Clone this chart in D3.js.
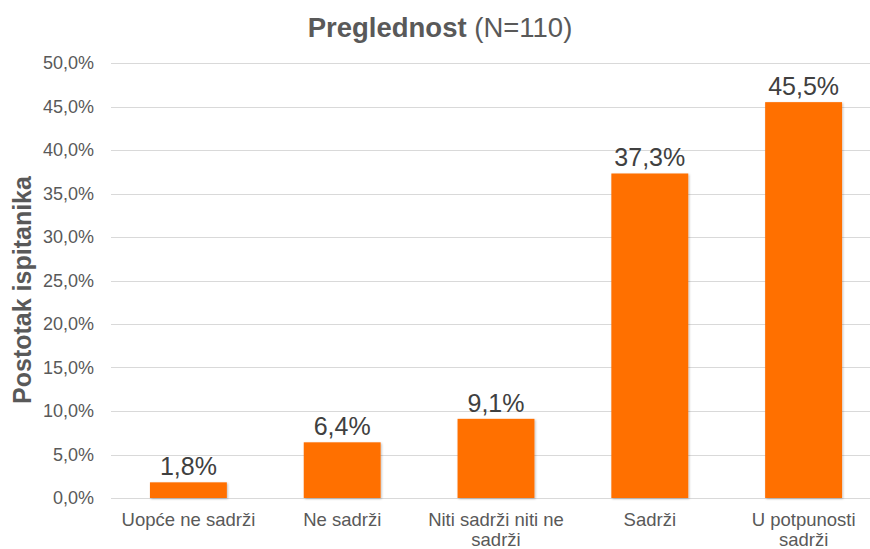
<!DOCTYPE html>
<html>
<head>
<meta charset="utf-8">
<script src="https://cdn.jsdelivr.net/npm/d3@7"></script>
<style>
  html, body { margin: 0; padding: 0; background: #fff; }
  svg { display: block; font-family: "Liberation Sans", Arial, Helvetica, sans-serif; }
</style>
</head>
<body>
<svg id="chart" width="870" height="549"></svg>
<script>
// Answer categories and share of respondents (%)
const categories = ["Uopće ne sadrži", "Ne sadrži", "Niti sadrži niti ne sadrži", "Sadrži", "U potpunosti sadrži"];
const values = [1.8, 6.4, 9.1, 37.3, 45.5];
const yTicks = [0, 5, 10, 15, 20, 25, 30, 35, 40, 45, 50];

const titleBold = "Preglednost";
const titleRest = " (N=110)";
const yLabel = "Postotak ispitanika";

const W = 870, H = 549;
const textColor = "#595959";
const barColor = "#ff6f00";

const svg = d3.select("#chart");

const defs = svg.append("defs");
const shadow = defs.append("filter").attr("id", "barShadow")
  .attr("x", "-10%").attr("y", "-10%").attr("width", "130%").attr("height", "130%");
shadow.append("feDropShadow")
  .attr("dx", 1).attr("dy", 1).attr("stdDeviation", 1)
  .attr("flood-color", "#000").attr("flood-opacity", 0.25);

const x = d3.scaleBand()
  .domain(categories)
  .range([111.5, 880.5])
  .paddingInner(0.5)
  .paddingOuter(0.25);

const y = d3.scaleLinear()
  .domain([0, 50])
  .range([498, 63]);

const fmt = v => d3.format(".1f")(v).replace(".", ",") + "%";

// Horizontal gridlines
svg.append("g")
  .selectAll("line")
  .data(yTicks)
  .join("line")
  .attr("x1", 111)
  .attr("x2", W)
  .attr("y1", d => Math.round(y(d)) + 0.5)
  .attr("y2", d => Math.round(y(d)) + 0.5)
  .attr("stroke", "#d9d9d9")
  .attr("stroke-width", 1.2);

// Y axis tick labels
const yAxis = d3.axisLeft(y).tickValues(yTicks).tickFormat(fmt).tickSize(0).tickPadding(0);
const gy = svg.append("g").attr("transform", "translate(94,0)").call(yAxis);
gy.select(".domain").remove();
gy.selectAll("text")
  .attr("fill", textColor)
  .style("font-size", "18px")
  .style("font-family", "'Liberation Sans', Arial, sans-serif");

// Bars
svg.append("g")
  .selectAll("rect")
  .data(values)
  .join("rect")
  .attr("x", (d, i) => x(categories[i]))
  .attr("y", d => y(d))
  .attr("width", x.bandwidth())
  .attr("height", d => y(0) - y(d))
  .attr("fill", barColor)
  .attr("filter", "url(#barShadow)");

// Value labels
svg.append("g")
  .selectAll("text")
  .data(values)
  .join("text")
  .attr("x", (d, i) => x(categories[i]) + x.bandwidth() / 2)
  .attr("y", d => y(d) - 7)
  .attr("text-anchor", "middle")
  .attr("fill", "#404040")
  .style("font-size", "25px")
  .text(fmt);

// Category labels, wrapped to the band width
const xAxis = d3.axisBottom(x).tickSize(0).tickPadding(0);
const gx = svg.append("g").attr("transform", "translate(0,498)").call(xAxis);
gx.select(".domain").remove();
gx.selectAll("text")
  .attr("fill", textColor)
  .style("font-size", "18.5px")
  .style("font-family", "'Liberation Sans', Arial, sans-serif")
  .attr("y", 0)
  .attr("dy", null)
  .each(function (d) {
    const t = d3.select(this);
    const words = d.split(" ");
    const maxW = x.step() * 0.98;
    t.text(null);
    let lines = [], line = [];
    const probe = t.append("tspan");
    for (const w of words) {
      line.push(w);
      probe.text(line.join(" "));
      if (probe.node().getComputedTextLength() > maxW && line.length > 1) {
        line.pop();
        lines.push(line.join(" "));
        line = [w];
      }
    }
    lines.push(line.join(" "));
    probe.remove();
    lines.forEach((l, i) => {
      t.append("tspan").attr("x", 0).attr("y", 28 + i * 20).text(l);
    });
  });

// Title
const title = svg.append("text")
  .attr("x", 440)
  .attr("y", 37)
  .attr("text-anchor", "middle")
  .attr("fill", textColor)
  .style("font-size", "27.5px");
title.append("tspan").style("font-weight", "bold").text(titleBold);
title.append("tspan").text(titleRest);

// Y axis title
svg.append("text")
  .attr("transform", "translate(31,290) rotate(-90)")
  .attr("text-anchor", "middle")
  .attr("fill", textColor)
  .style("font-size", "25px")
  .style("font-weight", "bold")
  .text(yLabel);
</script>
</body>
</html>
